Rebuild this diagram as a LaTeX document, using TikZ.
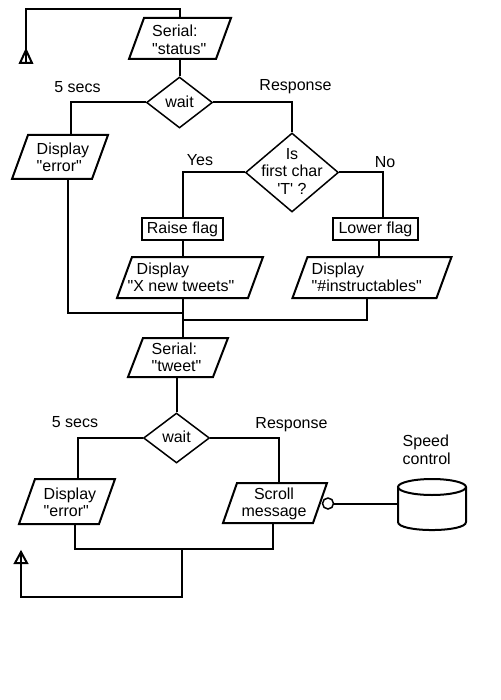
\documentclass[tikz,border=0pt]{standalone}
\usepackage{fontspec}
\newfontfamily\lsans{Liberation Sans}
\usetikzlibrary{shapes.geometric}
\newcommand{\pgram}[6]{%
  \node[shp, minimum width=#4pt, minimum height=#5pt] (#1) at (#2,#3) {};
  \draw[edge] ([xshift=#6pt]#1.north west) -- ([xshift=#6pt]#1.north east)
    -- ([xshift=-#6pt]#1.south east) -- ([xshift=-#6pt]#1.south west) -- cycle;}
\begin{document}
\begin{tikzpicture}[x=1pt,y=-1pt,
  ln/.style={line width=2pt},
  edge/.style={line width=2pt, line join=miter},
  shp/.style={rectangle, inner sep=0pt, outer sep=0pt},
  diam/.style={diamond, draw, line width=1.5pt, inner sep=0pt},
  rbox/.style={rectangle, draw, line width=2pt, inner sep=0pt, font=\lsans\fontsize{16}{17.5}\selectfont},
  txt/.style={font=\lsans\fontsize{16}{17.5}\selectfont, inner sep=0pt},
  knob/.style={circle, draw, line width=1.5pt, minimum size=11pt, inner sep=0pt, fill=white}]
\fill[white] (0,0) rectangle (500,700);
\useasboundingbox (0,0) rectangle (500,700);

% ---------- shapes ----------
\pgram{s1}{180}{38.5}{87}{41}{7.5}
\node[txt, anchor=west, align=left] (s1t) at (152,40) {Serial:\\"status"};

\node[diam, minimum width=66pt, minimum height=51pt] (d1) at (179.5,102.5) {};
\node[txt] (d1t) at (179.5,102) {wait};

\pgram{e1}{60}{157}{80}{44}{8}
\node[txt, anchor=west, align=left] (e1t) at (36.5,157.5) {Display\\"error"};

\node[diam, minimum width=93pt, minimum height=79pt] (d2) at (292,172.5) {};
\node[txt, align=center] (d2t) at (292,171) {Is\\first char\\'T' ?};

\node[rbox, minimum width=81pt, minimum height=22pt] (r1) at (182.5,229) {Raise flag};
\node[rbox, minimum width=85pt, minimum height=22pt] (l1) at (375.5,229) {Lower flag};

\pgram{p1}{190}{277.5}{131}{41}{7.5}
\node[txt, anchor=west, align=left] (p1t) at (127.5,277.5) {\hspace*{9pt}Display\\"X new tweets"};

\pgram{p2}{372}{277.5}{144}{41}{7.5}
\node[txt, anchor=west, align=left] (p2t) at (311.5,277.5) {Display\\"\#instructables"};

\pgram{s2}{178}{357.5}{85}{39}{7.5}
\node[txt, anchor=west, align=left] (s2t) at (151.5,357.5) {Serial:\\"tweet"};

\node[diam, minimum width=66pt, minimum height=50pt] (d3) at (176.5,438) {};
\node[txt] (d3t) at (176.5,437) {wait};

\pgram{e2}{67}{501.5}{80}{45}{8}
\node[txt, anchor=west, align=left] (e2t) at (43.5,502.5) {Display\\"error"};

\pgram{sc}{275}{503}{90}{40}{7}
\node[txt, align=center] (sct) at (274,504) {Scroll\\message};

% speed control cylinder
\node[shp, minimum width=68pt, minimum height=51pt] (cyl) at (432,504.5) {};
\draw[edge] (432,487) ellipse [x radius=34, y radius=8];
\draw[edge] (398,487) -- (398,522) .. controls (398,532.7) and (466,532.7) .. (466,522) -- (466,487);
\node[txt, anchor=west, align=left] (spd) at (402.5,450) {Speed\\control};

% ---------- labels ----------
\node[txt] (lb1) at (77.5,87) {5 secs};
\node[txt] (lb2) at (295.5,86.5) {Response};
\node[txt] (lb3) at (200,160) {Yes};
\node[txt] (lb4) at (385,162) {No};
\node[txt] (lb5) at (75,422) {5 secs};
\node[txt] (lb6) at (291.5,424.5) {Response};

% ---------- connectors ----------
\coordinate (tl1) at (26,63);
\draw[ln] (tl1) -- ++(0,-54) -| (s1.north);
\draw[ln] (26,50) -- (20,63) -- (32,63) -- cycle;

\draw[ln] (s1.south) -- (s1.south |- d1.north);
\draw[ln] (d1.west) -| ([xshift=10.5pt]e1.north);
\draw[ln] (d1.east) -| (d2.north);

\coordinate (j1) at (182.5,313);
\coordinate (j2) at (182.5,320);
\draw[ln] ([xshift=8pt]e1.south) |- (j1);

\draw[ln] (d2.west) -| (r1.north);
\draw[ln] (d2.east) -| ([xshift=7.5pt]l1.north);
\draw[ln] (r1.south) -- (r1.south |- p1.north);
\draw[ln] ([xshift=3.5pt]l1.south) -- ([xshift=3.5pt]l1.south |- p2.north);
\draw[ln] ([xshift=-5pt]p2.south) |- (j2);
\draw[ln] (r1.south |- p1.south) -- (r1.south |- s2.north);

\draw[ln] (d3.north |- s2.south) -- (d3.north);
\draw[ln] (d3.west) -| ([xshift=11pt]e2.north);
\draw[ln] (d3.east) -| ([xshift=4pt]sc.north);

\coordinate (j3) at (182,549);
\coordinate (tl2) at (21,551);
\draw[ln] ([xshift=8pt]e2.south) |- (j3) -| ([xshift=-2pt]sc.south);
\draw[ln] (j3) -- ++(0,48) -| (tl2);
\draw[ln] (21,552) -- (15,563) -- (27,563) -- cycle;

\node[knob] (kn) at (328,503.5) {};
\draw[ln] (kn) -- (kn -| cyl.west);
\end{tikzpicture}
\end{document}
